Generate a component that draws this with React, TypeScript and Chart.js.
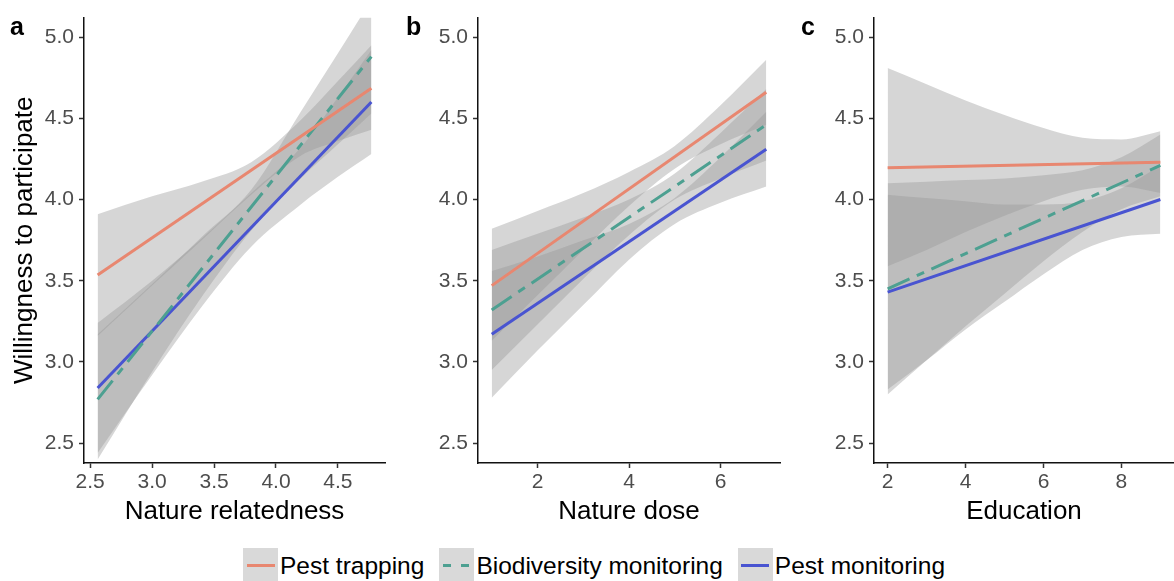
import React, { useEffect, useRef } from "react";
import { Chart, registerables } from "chart.js";

Chart.register(...registerables);

const FONT = "'Liberation Sans', Arial, Helvetica, sans-serif";

// ---- Series ----
const seriesNames = ["Pest trapping", "Biodiversity monitoring", "Pest monitoring"];
const seriesColors = ["#E88770", "#4DA091", "#4954D1"];
const seriesDash: number[][] = [[], [24, 8, 8, 8], []];
const ribbonFill = "rgba(153,153,153,0.4)";

// ---- Shared y axis ----
const yTicks = [2.5, 3.0, 3.5, 4.0, 4.5, 5.0];
const yMin = 2.378;
const yMax = 5.12;
const yTitle = "Willingness to participate";

// ---- Panel a: Nature relatedness ----
const aTitle = "Nature relatedness";
const aTicks = [2.5, 3.0, 3.5, 4.0, 4.5];
const aRange = [2.45, 4.88];
const aLineX = [2.56, 4.77];
const aTrapLine = [3.535, 4.685];
const aBioLine = [2.77, 4.88];
const aMonLine = [2.84, 4.6];
const aBandX = [2.56, 3.0, 3.4, 3.8, 4.2, 4.5, 4.77];
const aTrapLo = [3.16, 3.47, 3.75, 4.03, 4.27, 4.36, 4.43];
const aTrapHi = [3.91, 4.02, 4.11, 4.23, 4.49, 4.73, 4.95];
const aBioLo = [2.4, 2.94, 3.4, 3.81, 4.13, 4.34, 4.53];
const aBioHi = [3.17, 3.48, 3.77, 4.06, 4.54, 4.9, 5.23];
const aMonLo = [2.44, 2.92, 3.34, 3.71, 3.97, 4.14, 4.28];
const aMonHi = [3.24, 3.5, 3.76, 4.04, 4.32, 4.63, 4.92];

// ---- Panel b: Nature dose ----
const bTitle = "Nature dose";
const bTicks = [2, 4, 6];
const bRange = [0.7, 7.3];
const bLineX = [1, 7];
const bTrapLine = [3.47, 4.66];
const bBioLine = [3.32, 4.46];
const bMonLine = [3.17, 4.31];
const bBandX = [1, 2, 3, 4, 5, 6, 7];
const bTrapLo = [3.13, 3.41, 3.69, 3.96, 4.19, 4.34, 4.46];
const bTrapHi = [3.82, 3.93, 4.04, 4.17, 4.33, 4.58, 4.86];
const bBioLo = [2.95, 3.23, 3.51, 3.78, 4.0, 4.13, 4.24];
const bBioHi = [3.69, 3.79, 3.89, 4.0, 4.16, 4.41, 4.68];
const bMonLo = [2.78, 3.07, 3.35, 3.63, 3.85, 3.98, 4.08];
const bMonHi = [3.56, 3.65, 3.75, 3.85, 4.01, 4.26, 4.54];

// ---- Panel c: Education ----
const cTitle = "Education";
const cTicks = [2, 4, 6, 8];
const cRange = [1.65, 9.35];
const cLineX = [2, 9];
const cTrapLine = [4.195, 4.23];
const cBioLine = [3.45, 4.21];
const cMonLine = [3.43, 4.0];
const cBandX = [2, 3, 4, 5, 6, 7, 8, 9];
const cTrapLo = [3.59, 3.69, 3.8, 3.9, 3.99, 4.06, 4.08, 4.04];
const cTrapHi = [4.81, 4.71, 4.61, 4.52, 4.44, 4.38, 4.37, 4.42];
const cBioLo = [2.8, 3.01, 3.22, 3.42, 3.62, 3.8, 3.94, 4.02];
const cBioHi = [4.1, 4.11, 4.12, 4.13, 4.15, 4.18, 4.26, 4.4];
const cMonLo = [2.83, 3.01, 3.2, 3.37, 3.54, 3.69, 3.77, 3.79];
const cMonHi = [4.03, 4.01, 3.99, 3.97, 3.97, 3.99, 4.07, 4.21];

type PanelData = {
  letter: string;
  xTitle: string;
  xTicks: number[];
  xRange: number[];
  xDecimals: number;
  lineX: number[];
  lines: number[][];
  bandX: number[];
  bands: number[][][];
  showYTitle: boolean;
};

const panels: PanelData[] = [
  {
    letter: "a",
    xTitle: aTitle,
    xTicks: aTicks,
    xRange: aRange,
    xDecimals: 1,
    lineX: aLineX,
    lines: [aTrapLine, aBioLine, aMonLine],
    bandX: aBandX,
    bands: [
      [aTrapLo, aTrapHi],
      [aBioLo, aBioHi],
      [aMonLo, aMonHi],
    ],
    showYTitle: true,
  },
  {
    letter: "b",
    xTitle: bTitle,
    xTicks: bTicks,
    xRange: bRange,
    xDecimals: 0,
    lineX: bLineX,
    lines: [bTrapLine, bBioLine, bMonLine],
    bandX: bBandX,
    bands: [
      [bTrapLo, bTrapHi],
      [bBioLo, bBioHi],
      [bMonLo, bMonHi],
    ],
    showYTitle: false,
  },
  {
    letter: "c",
    xTitle: cTitle,
    xTicks: cTicks,
    xRange: cRange,
    xDecimals: 0,
    lineX: cLineX,
    lines: [cTrapLine, cBioLine, cMonLine],
    bandX: cBandX,
    bands: [
      [cTrapLo, cTrapHi],
      [cBioLo, cBioHi],
      [cMonLo, cMonHi],
    ],
    showYTitle: false,
  },
];

// layout (pixels)
const panelBoxes = [
  { left: 0, width: 390, yWidth: 84, padRight: 5, letterLeft: 10 },
  { left: 390, width: 392, yWidth: 88, padRight: 2, letterLeft: 406 },
  { left: 782, width: 392, yWidth: 92, padRight: 0, letterLeft: 801 },
];
const CANVAS_H = 540;
const X_AXIS_H = 77;
const TOP_PAD = 15;

function Panel({ data, box }: { data: PanelData; box: (typeof panelBoxes)[number] }) {
  const ref = useRef<HTMLCanvasElement>(null);

  useEffect(() => {
    if (!ref.current) return;
    const pts = (xs: number[], ys: number[]) => xs.map((x, i) => ({ x, y: ys[i] }));
    const datasets: any[] = [];
    data.lines.forEach((ys, i) => {
      datasets.push({
        label: seriesNames[i],
        data: pts(data.lineX, ys),
        borderColor: seriesColors[i],
        backgroundColor: seriesColors[i],
        borderWidth: 3,
        borderDash: seriesDash[i],
        borderCapStyle: "butt",
        pointRadius: 0,
        fill: false,
        order: 0,
      });
    });
    data.bands.forEach(([lo, hi], i) => {
      datasets.push({
        label: seriesNames[i] + " low",
        data: pts(data.bandX, lo),
        borderColor: "rgba(0,0,0,0)",
        borderWidth: 0,
        pointRadius: 0,
        fill: false,
        cubicInterpolationMode: "monotone",
        order: 1,
      });
      datasets.push({
        label: seriesNames[i] + " high",
        data: pts(data.bandX, hi),
        borderColor: "rgba(0,0,0,0)",
        borderWidth: 0,
        pointRadius: 0,
        fill: "-1",
        backgroundColor: ribbonFill,
        cubicInterpolationMode: "monotone",
        order: 1,
      });
    });

    const chart = new Chart(ref.current, {
      type: "line",
      data: { datasets },
      options: {
        animation: false,
        responsive: false,
        events: [],
        layout: { padding: { top: TOP_PAD, left: 0, right: box.padRight, bottom: 0 } },
        plugins: { legend: { display: false }, tooltip: { enabled: false } },
        scales: {
          x: {
            type: "linear",
            min: data.xRange[0],
            max: data.xRange[1],
            afterBuildTicks: (s: any) => {
              s.ticks = data.xTicks.map((v) => ({ value: v }));
            },
            afterFit: (s: any) => {
              s.height = X_AXIS_H;
            },
            ticks: {
              callback: (v: any) => Number(v).toFixed(data.xDecimals),
              font: { size: 21, family: FONT },
              color: "#4D4D4D",
              padding: 2,
              maxRotation: 0,
              autoSkip: false,
            },
            grid: { drawOnChartArea: false, drawTicks: true, tickLength: 5, tickColor: "#333", tickWidth: 1.5 },
            border: { display: true, color: "#111", width: 1.5 },
            title: {
              display: true,
              text: data.xTitle,
              font: { size: 26, family: FONT },
              color: "#000",
              padding: { top: 0, bottom: 13 },
            },
          },
          y: {
            type: "linear",
            min: yMin,
            max: yMax,
            afterBuildTicks: (s: any) => {
              s.ticks = yTicks.map((v) => ({ value: v }));
            },
            afterFit: (s: any) => {
              s.width = box.yWidth;
            },
            ticks: {
              callback: (v: any) => Number(v).toFixed(1),
              font: { size: 21, family: FONT },
              color: "#4D4D4D",
              padding: 5,
              autoSkip: false,
            },
            grid: { drawOnChartArea: false, drawTicks: true, tickLength: 5, tickColor: "#333", tickWidth: 1.5 },
            border: { display: true, color: "#111", width: 1.5 },
            title: {
              display: data.showYTitle,
              text: yTitle,
              font: { size: 26, family: FONT },
              color: "#000",
              padding: { top: 9, bottom: 0 },
            },
          },
        },
      },
    } as any);
    return () => chart.destroy();
  }, [data, box]);

  return (
    <>
      <canvas
        ref={ref}
        width={box.width}
        height={CANVAS_H}
        style={{ position: "absolute", left: box.left, top: 0, width: box.width, height: CANVAS_H, display: "block" }}
      />
      <div
        style={{
          position: "absolute",
          left: box.letterLeft,
          top: 14,
          fontFamily: FONT,
          fontWeight: "bold",
          fontSize: 25,
          lineHeight: "25px",
          color: "#000",
        }}
      >
        {data.letter}
      </div>
    </>
  );
}

function LegendKey({ i }: { i: number }) {
  const color = seriesColors[i];
  const dashed = seriesDash[i].length > 0;
  return (
    <div
      style={{
        width: 35,
        height: 35,
        background: "#D9D9D9",
        display: "flex",
        alignItems: "center",
        justifyContent: "center",
        flex: "0 0 auto",
      }}
    >
      <div
        style={{
          width: 28,
          height: 3,
          background: dashed
            ? `repeating-linear-gradient(90deg, ${color} 0px, ${color} 8px, transparent 8px, transparent 18px)`
            : color,
        }}
      />
    </div>
  );
}

export default function App() {
  return (
    <div
      style={{
        position: "absolute",
        left: 0,
        top: 0,
        width: 1174,
        height: 581,
        overflow: "hidden",
        background: "#fff",
      }}
    >
      {panels.map((p, i) => (
        <Panel key={p.letter} data={p} box={panelBoxes[i]} />
      ))}
      <div
        style={{
          position: "absolute",
          left: 243,
          top: 548,
          height: 35,
          display: "flex",
          alignItems: "center",
          gap: 15,
          fontFamily: FONT,
          fontSize: 24.5,
          color: "#000",
          whiteSpace: "nowrap",
        }}
      >
        {seriesNames.map((n, i) => (
          <div key={n} style={{ display: "flex", alignItems: "center", gap: 2 }}>
            <LegendKey i={i} />
            <span>{n}</span>
          </div>
        ))}
      </div>
    </div>
  );
}
